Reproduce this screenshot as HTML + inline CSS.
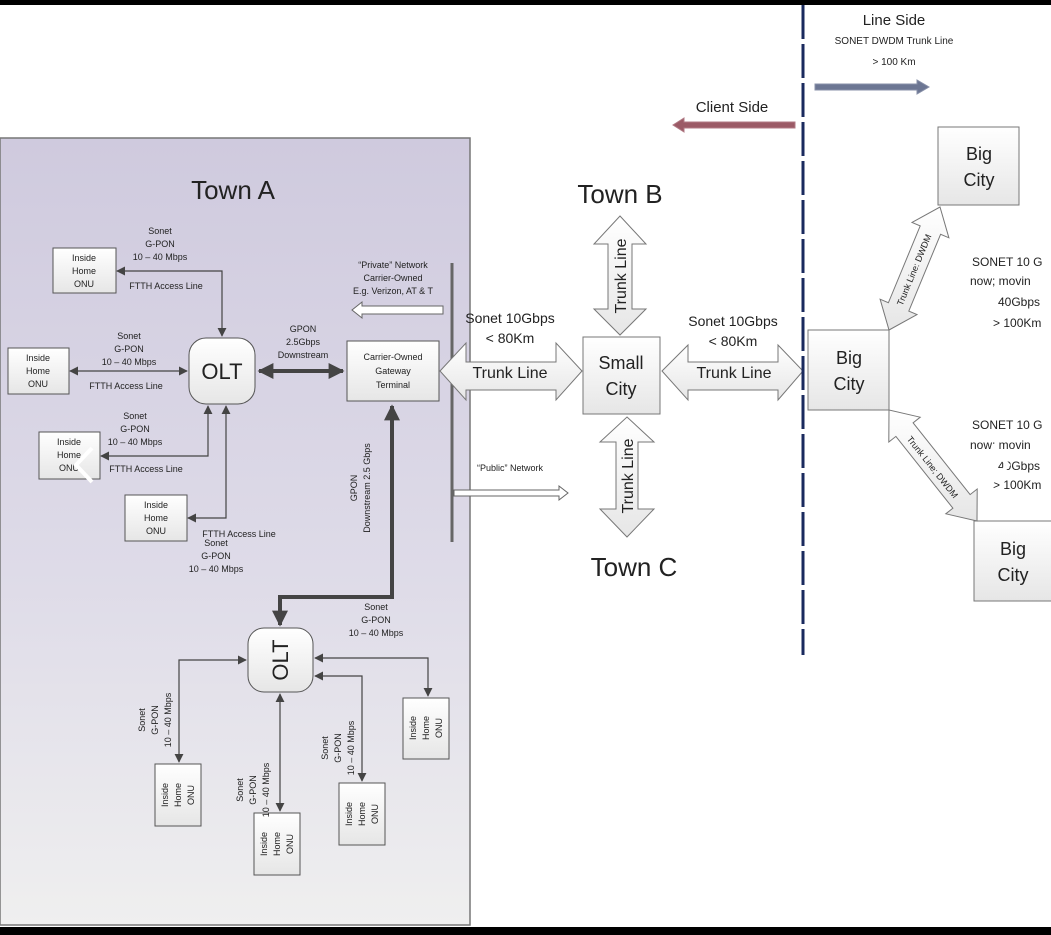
<!DOCTYPE html>
<html><head><meta charset="utf-8"><style>
html,body{margin:0;padding:0;background:#fff;}
svg{display:block;}
text{font-family:"Liberation Sans",sans-serif;fill:#222;}
</style></head><body>
<svg width="1051" height="935" viewBox="0 0 1051 935" xmlns="http://www.w3.org/2000/svg">
<defs>
<linearGradient id="pg" x1="0" y1="0" x2="0" y2="1">
<stop offset="0" stop-color="#cfcade"/><stop offset="0.55" stop-color="#dedbe8"/><stop offset="1" stop-color="#efefef"/>
</linearGradient>
<linearGradient id="bx" x1="0" y1="0" x2="0" y2="1">
<stop offset="0" stop-color="#ffffff"/><stop offset="1" stop-color="#e6e6e6"/>
</linearGradient>
<marker id="ah" viewBox="0 0 10 10" refX="9" refY="5" markerWidth="9" markerHeight="9" orient="auto-start-reverse" markerUnits="userSpaceOnUse"><path d="M0,0 L10,5 L0,10 z" fill="#444"/></marker>
<marker id="ahb" viewBox="0 0 10 10" refX="9" refY="5" markerWidth="16" markerHeight="16" orient="auto-start-reverse" markerUnits="userSpaceOnUse"><path d="M0,0 L10,5 L0,10 z" fill="#444"/></marker>
</defs>
<rect x="0" y="0" width="1051" height="935" fill="#fff"/>
<rect x="0" y="0" width="1051" height="5" fill="#000"/>
<rect x="0" y="138" width="470" height="787" fill="url(#pg)" stroke="#777" stroke-width="1.5"/>
<text x="233" y="199" font-size="26" text-anchor="middle">Town A</text>

<g fill="url(#bx)" stroke="#555" stroke-width="1">
<rect x="53" y="248" width="63" height="45"/>
<rect x="8" y="348" width="61" height="46"/>
<rect x="39" y="432" width="61" height="47"/>
<rect x="125" y="495" width="62" height="46"/>
<rect x="347" y="341" width="92" height="60"/>
<rect x="189" y="338" width="66" height="66" rx="17"/>
<rect x="248" y="628" width="65" height="64" rx="16"/>
<rect x="155" y="764" width="46" height="62"/>
<rect x="254" y="813" width="46" height="62"/>
<rect x="339" y="783" width="46" height="62"/>
<rect x="403" y="698" width="46" height="61"/>
</g>
<g font-size="9" text-anchor="middle">
<text x="84" y="261">Inside</text><text x="84" y="274">Home</text><text x="84" y="287">ONU</text>
<text x="38" y="361">Inside</text><text x="38" y="374">Home</text><text x="38" y="387">ONU</text>
<text x="69" y="445">Inside</text><text x="69" y="458">Home</text><text x="69" y="471">ONU</text>
<text x="156" y="508">Inside</text><text x="156" y="521">Home</text><text x="156" y="534">ONU</text>
<text x="393" y="360">Carrier-Owned</text><text x="393" y="374">Gateway</text><text x="393" y="388">Terminal</text>
</g>
<text x="222" y="379" font-size="22" text-anchor="middle">OLT</text>
<text transform="translate(288,660) rotate(-90)" font-size="22" text-anchor="middle">OLT</text>
<g font-size="9" text-anchor="middle">
<g transform="translate(178,795) rotate(-90)"><text x="0" y="-10">Inside</text><text x="0" y="3">Home</text><text x="0" y="16">ONU</text></g>
<g transform="translate(277,844) rotate(-90)"><text x="0" y="-10">Inside</text><text x="0" y="3">Home</text><text x="0" y="16">ONU</text></g>
<g transform="translate(362,814) rotate(-90)"><text x="0" y="-10">Inside</text><text x="0" y="3">Home</text><text x="0" y="16">ONU</text></g>
<g transform="translate(426,728) rotate(-90)"><text x="0" y="-10">Inside</text><text x="0" y="3">Home</text><text x="0" y="16">ONU</text></g>
</g>

<g stroke="#444" stroke-width="1.2" fill="none">
<path d="M117,271 L222,271 L222,336" marker-start="url(#ah)" marker-end="url(#ah)"/>
<path d="M70,371 L187,371" marker-start="url(#ah)" marker-end="url(#ah)"/>
<path d="M101,456 L208,456 L208,406" marker-start="url(#ah)" marker-end="url(#ah)"/>
<path d="M188,518 L226,518 L226,406" marker-start="url(#ah)" marker-end="url(#ah)"/>
<path d="M246,660 L179,660 L179,762" marker-start="url(#ah)" marker-end="url(#ah)"/>
<path d="M280,694 L280,811" marker-start="url(#ah)" marker-end="url(#ah)"/>
<path d="M315,676 L362,676 L362,781" marker-start="url(#ah)" marker-end="url(#ah)"/>
<path d="M315,658 L428,658 L428,696" marker-start="url(#ah)" marker-end="url(#ah)"/>
</g>
<g font-size="9" text-anchor="middle">
<text x="160" y="234">Sonet</text><text x="160" y="247">G-PON</text><text x="160" y="260">10 – 40 Mbps</text>
<text x="166" y="289">FTTH Access Line</text>
<text x="129" y="339">Sonet</text><text x="129" y="352">G-PON</text><text x="129" y="365">10 – 40 Mbps</text>
<text x="126" y="389">FTTH Access Line</text>
<text x="135" y="419">Sonet</text><text x="135" y="432">G-PON</text><text x="135" y="445">10 – 40 Mbps</text>
<text x="146" y="472">FTTH Access Line</text>
<text x="239" y="537">FTTH Access Line</text>
<text x="216" y="546">Sonet</text><text x="216" y="559">G-PON</text><text x="216" y="572">10 – 40 Mbps</text>
<text x="303" y="332">GPON</text><text x="303" y="345">2.5Gbps</text><text x="303" y="358">Downstream</text>
<text x="393" y="268">“Private” Network</text><text x="393" y="281">Carrier-Owned</text><text x="393" y="294">E.g. Verizon, AT &amp; T</text>
<text x="376" y="610">Sonet</text><text x="376" y="623">G-PON</text><text x="376" y="636">10 – 40 Mbps</text>
<text x="510" y="471">“Public” Network</text>
<g transform="translate(357,488) rotate(-90)"><text x="0" y="0">GPON</text><text x="0" y="13">Downstream 2.5 Gbps</text></g>
<g transform="translate(155,720) rotate(-90)"><text x="0" y="-10">Sonet</text><text x="0" y="3">G-PON</text><text x="0" y="16">10 – 40 Mbps</text></g>
<g transform="translate(253,790) rotate(-90)"><text x="0" y="-10">Sonet</text><text x="0" y="3">G-PON</text><text x="0" y="16">10 – 40 Mbps</text></g>
<g transform="translate(338,748) rotate(-90)"><text x="0" y="-10">Sonet</text><text x="0" y="3">G-PON</text><text x="0" y="16">10 – 40 Mbps</text></g>
</g>
<g stroke="#444" stroke-width="4" fill="none">
<path d="M259,371 L343,371" marker-start="url(#ahb)" marker-end="url(#ahb)"/>
<path d="M392,406 L392,597 L280,597 L280,625" marker-start="url(#ahb)" marker-end="url(#ahb)"/>
</g>
<line x1="452" y1="263" x2="452" y2="542" stroke="#666" stroke-width="3"/>
<path d="M443,306 L362,306 L362,302 L352,310 L362,318 L362,314 L443,314 z" fill="#fff" stroke="#666" stroke-width="1"/>
<path d="M454,490 L559,490 L559,486 L568,493 L559,500 L559,496 L454,496 z" fill="#fff" stroke="#666" stroke-width="1"/>

<text x="620" y="203" font-size="26" text-anchor="middle">Town B</text>
<text x="634" y="576" font-size="26" text-anchor="middle">Town C</text>
<g fill="url(#bx)" stroke="#777" stroke-width="1">
<path d="M440,371 L466,343 L466,362 L556,362 L556,343 L582,371 L556,400 L556,390 L466,390 L466,400 z"/>
<path d="M662,371 L688,345 L688,362 L778,362 L778,345 L803,371 L778,400 L778,390 L688,390 L688,400 z"/>
<path d="M620,216 L646,244 L632,244 L632,309 L646,309 L620,335 L594,309 L608,309 L608,244 L594,244 z"/>
<path d="M627,417 L654,442 L638,442 L638,509 L654,509 L627,537 L600,509 L616,509 L616,442 L600,442 z"/>
<rect x="583" y="337" width="77" height="77"/>
<rect x="938" y="127" width="81" height="78"/>
<rect x="808" y="330" width="81" height="80"/>
<rect x="974" y="521" width="82" height="80"/>
<path d="M889,330 L917,314.6 L908.8,311.1 L940.6,234.3 L948.9,237.8 L940,207 L912,222.4 L920.2,225.9 L888.4,302.7 L880.1,299.2 z"/>
<path d="M889,410 L888.8,442 L895.9,436.4 L952.9,508.2 L945.8,513.8 L977,521 L977.2,489 L970.1,494.6 L913.1,422.8 L920.2,417.2 z"/>
</g>
<g font-size="16" text-anchor="middle">
<text x="510" y="378">Trunk Line</text><text x="734" y="378">Trunk Line</text>
<text transform="translate(626,276) rotate(-90)">Trunk Line</text>
<text transform="translate(633,476) rotate(-90)">Trunk Line</text>
<text x="510" y="323" font-size="14">Sonet 10Gbps</text><text x="510" y="343" font-size="14">&lt; 80Km</text>
<text x="733" y="326" font-size="14">Sonet 10Gbps</text><text x="733" y="346" font-size="14">&lt; 80Km</text>
<text x="621" y="369" font-size="18">Small</text><text x="621" y="395" font-size="18">City</text>
<text x="979" y="160" font-size="18">Big</text><text x="979" y="186" font-size="18">City</text>
<text x="849" y="364" font-size="18">Big</text><text x="849" y="390" font-size="18">City</text>
<text x="1013" y="555" font-size="18">Big</text><text x="1013" y="581" font-size="18">City</text>
</g>
<text transform="translate(917,271) rotate(-67.5)" font-size="9" text-anchor="middle">Trunk Line: DWDM</text>
<text transform="translate(930,469) rotate(51.6)" font-size="9" text-anchor="middle">Trunk Line; DWDM</text>
<g font-size="12">
<text x="972" y="266">SONET 10 G</text><text x="970" y="285">now; movin</text><text x="998" y="306">40Gbps</text><text x="993" y="327">&gt; 100Km</text>
<text x="972" y="429">SONET 10 G</text><text x="970" y="449">now; movin</text><text x="998" y="470">40Gbps</text><text x="993" y="489">&gt; 100Km</text>
</g>
<line x1="803" y1="5" x2="803" y2="655" stroke="#1a2a5e" stroke-width="3" stroke-dasharray="34,5"/>
<text x="894" y="25" font-size="15" text-anchor="middle">Line Side</text>
<text x="894" y="44" font-size="10" text-anchor="middle">SONET DWDM Trunk Line</text>
<text x="894" y="65" font-size="10" text-anchor="middle">&gt; 100 Km</text>
<path d="M815,84 L917,84 L917,80 L929,87 L917,94 L917,90 L815,90 z" fill="#6c7693" stroke="#8890a8"/>
<text x="732" y="112" font-size="15" text-anchor="middle">Client Side</text>
<path d="M795,122 L684,122 L684,118 L673,125 L684,132 L684,128 L795,128 z" fill="#9b5a66" stroke="#b07a84"/>
<path d="M92,448 L76,465 L92,482" stroke="#fff" stroke-width="4" fill="none"/>
<path d="M992,448 L1008,465 L992,482" stroke="#fff" stroke-width="4" fill="none"/>
<rect x="0" y="927" width="1051" height="8" fill="#000"/>
</svg>
</body></html>
